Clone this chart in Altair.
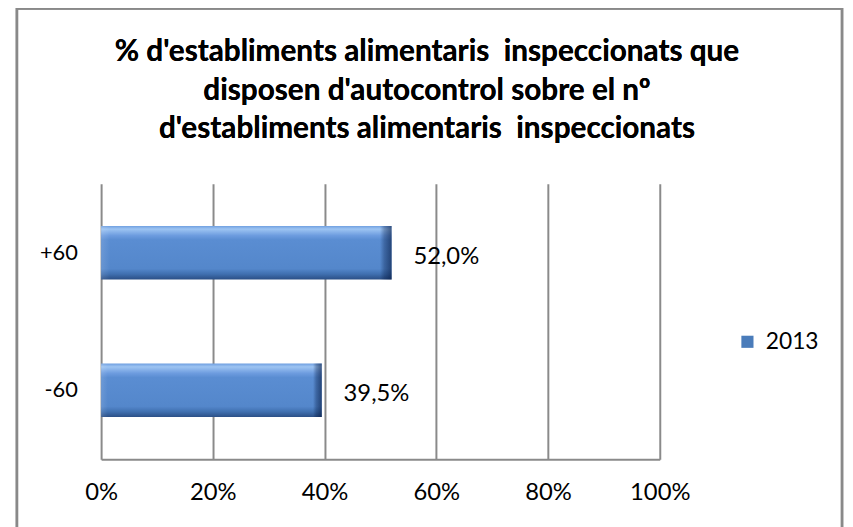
import altair as alt
import pandas as pd

categories = ["+60", "-60"]
values = [52.0, 39.5]
series = ["2013", "2013"]
x_ticks = [0, 20, 40, 60, 80, 100]
title_lines = [
    "% d'establiments alimentaris \u00a0inspeccionats que",
    "disposen d'autocontrol sobre el nº",
    "d'establiments alimentaris \u00a0inspeccionats",
]

df = pd.DataFrame({"cat": categories, "val": values, "year": series})

FONT = "Lato"
GRID = "#8a8a8a"

bar_grad = alt.Gradient(
    gradient="linear", x1=0, x2=0, y1=0, y2=1,
    stops=[
        alt.GradientStop(color="#6f9fe0", offset=0.0),
        alt.GradientStop(color="#9dc4f2", offset=0.06),
        alt.GradientStop(color="#6d9cdf", offset=0.18),
        alt.GradientStop(color="#5a8dd2", offset=0.26),
        alt.GradientStop(color="#5487cb", offset=0.8),
        alt.GradientStop(color="#4070b0", offset=0.9),
        alt.GradientStop(color="#2b4f86", offset=1.0),
    ],
)
edge_grad = alt.Gradient(
    gradient="linear", x1=0, x2=1, y1=0, y2=0,
    stops=[
        alt.GradientStop(color="rgba(255,255,255,0.12)", offset=0.0),
        alt.GradientStop(color="rgba(255,255,255,0)", offset=0.03),
        alt.GradientStop(color="rgba(0,20,60,0)", offset=0.96),
        alt.GradientStop(color="rgba(0,20,60,0.3)", offset=0.975),
        alt.GradientStop(color="rgba(0,20,60,0.6)", offset=1.0),
    ],
)

x_enc = alt.X(
    "val:Q",
    scale=alt.Scale(domain=[0, 100], nice=False),
    axis=alt.Axis(
        values=x_ticks, labelExpr="datum.value + '%'", title=None,
        grid=True, gridColor=GRID, gridWidth=2, ticks=False, labelFlush=False,
        domainColor=GRID, domainWidth=2, labelFontSize=24, labelFont=FONT,
        labelColor="#000000", labelPadding=34, labelBaseline="middle",
    ),
)
y_enc = alt.Y(
    "cat:N", sort=categories,
    scale=alt.Scale(paddingInner=0, paddingOuter=0),
    axis=alt.Axis(
        title=None, ticks=False, domain=False, labelFontSize=22, labelFont=FONT,
        labelColor="#000000", labelPadding=24,
    ),
)

base = alt.Chart(df)

bars = base.mark_bar(size=54, fill=bar_grad).encode(x=x_enc, y=y_enc)
edges = base.mark_bar(size=54, fill=edge_grad).encode(x="val:Q", y=alt.Y("cat:N", sort=categories))
labels = base.transform_calculate(
    lbl="replace(format(datum.val, '.1f'), '.', ',') + '%'"
).mark_text(align="left", baseline="middle", dx=22, dy=4, fontSize=24, font=FONT, color="#000000").encode(
    x="val:Q", y=alt.Y("cat:N", sort=categories), text="lbl:N"
)
legend_layer = base.mark_square(opacity=0).encode(
    x="val:Q", y=alt.Y("cat:N", sort=categories),
    color=alt.Color(
        "year:N", scale=alt.Scale(range=["#4a7cba"]),
        legend=alt.Legend(
            title=None, orient="none", legendX=641, legendY=148, symbolType="square",
            symbolSize=150, symbolOpacity=1, symbolStrokeWidth=0, labelFontSize=23, labelFont=FONT,
            labelColor="#000000", labelOffset=7, padding=0,
        ),
    ),
)
border = base.mark_rect(fill="transparent", stroke="#898989", strokeWidth=2.5).encode(
    x=alt.value(-85), x2=alt.value(748), y=alt.value(-177), y2=alt.value(400)
)
title = base.mark_text(
    text=title_lines, font=FONT, fontSize=30, fontWeight="bold", color="#000000",
    align="center", baseline="middle", lineHeight=39,
).encode(x=alt.value(329), y=alt.value(-133))

chart = alt.layer(border, title, bars, edges, labels, legend_layer).properties(
    width=564, height=278,
    autosize=alt.AutoSizeParams(type="none"),
    padding={"left": 94, "top": 175, "right": 187, "bottom": 66},
).configure_view(stroke=None)

chart.save("out.html", embed_options={"renderer": "svg", "actions": False})
